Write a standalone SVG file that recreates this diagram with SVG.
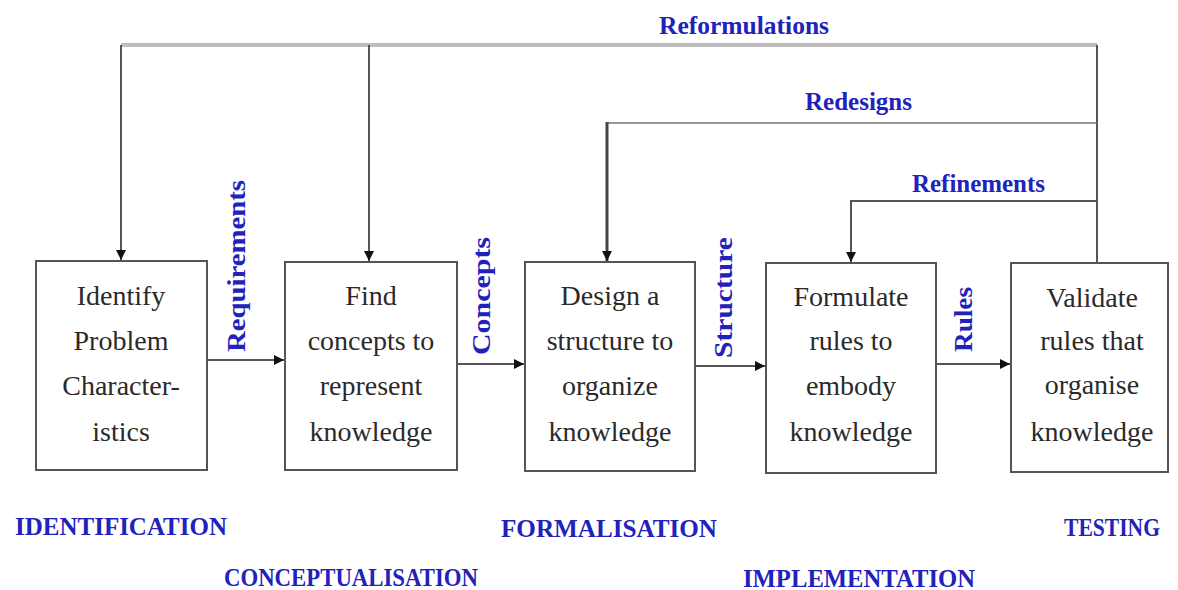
<svg xmlns="http://www.w3.org/2000/svg" width="1178" height="590" viewBox="0 0 1178 590">
  <style>
    .box { fill: #ffffff; stroke: #555555; stroke-width: 2; }
    .step { font-family: "Liberation Serif", "Times New Roman", serif; font-size: 28px; fill: #2a2a2a; text-anchor: middle; }
    .flow { font-family: "Liberation Serif", "Times New Roman", serif; font-size: 25px; font-weight: bold; fill: #2121bc; }
    .phase { font-family: "Liberation Serif", "Times New Roman", serif; font-size: 25px; font-weight: bold; fill: #2121bc; }
    .wire { fill: none; stroke: #555555; stroke-width: 2; }
  </style>
  <defs>
    <marker id="head" viewBox="0 0 10 10" refX="10" refY="5" markerWidth="10" markerHeight="10" markerUnits="userSpaceOnUse" orient="auto">
      <path d="M0,0 L10,5 L0,10 z" fill="#111111"/>
    </marker>
  </defs>
  <rect width="1178" height="590" fill="#ffffff"/>

  <!-- feedback loops and forward flow -->
  <g id="connectors">
    <!-- reformulations: testing back to identification and conceptualisation -->
    <path d="M1097,45 L121,45" fill="none" stroke="#bdbdbd" stroke-width="4"/>
    <path class="wire" d="M121,45 L121,260" marker-end="url(#head)"/>
    <path class="wire" d="M369,45 L369,261" marker-end="url(#head)"/>
    <path class="wire" d="M1097,45 L1097,263"/>
    <!-- redesigns -->
    <path d="M1097,123 L607,123" fill="none" stroke="#777777" stroke-width="1.5"/>
    <path d="M607,122 L607,261" fill="none" stroke="#444444" stroke-width="3" marker-end="url(#head)"/>
    <!-- refinements -->
    <path class="wire" d="M1097,201 L851,201 L851,262" marker-end="url(#head)"/>
    <!-- forward flow between steps -->
    <path class="wire" d="M207,360 L284,360" marker-end="url(#head)"/>
    <path class="wire" d="M457,364 L524,364" marker-end="url(#head)"/>
    <path class="wire" d="M695,366 L765,366" marker-end="url(#head)"/>
    <path class="wire" d="M936,364 L1010,364" marker-end="url(#head)"/>
  </g>

  <g id="identify">
    <rect class="box" x="36" y="261" width="171" height="209"/>
    <text class="step" x="121" y="305">Identify</text>
    <text class="step" x="121" y="350">Problem</text>
    <text class="step" x="121" y="395">Character-</text>
    <text class="step" x="121" y="441">istics</text>
  </g>

  <g id="find-concepts">
    <rect class="box" x="285" y="262" width="172" height="208"/>
    <text class="step" x="371" y="305">Find</text>
    <text class="step" x="371" y="350">concepts to</text>
    <text class="step" x="371" y="395">represent</text>
    <text class="step" x="371" y="441">knowledge</text>
  </g>

  <g id="design-structure">
    <rect class="box" x="525" y="262" width="170" height="209"/>
    <text class="step" x="610" y="305">Design a</text>
    <text class="step" x="610" y="350">structure to</text>
    <text class="step" x="610" y="395">organize</text>
    <text class="step" x="610" y="441">knowledge</text>
  </g>

  <g id="formulate-rules">
    <rect class="box" x="766" y="263" width="170" height="210"/>
    <text class="step" x="851" y="306">Formulate</text>
    <text class="step" x="851" y="350">rules to</text>
    <text class="step" x="851" y="395">embody</text>
    <text class="step" x="851" y="441">knowledge</text>
  </g>

  <g id="validate-rules">
    <rect class="box" x="1011" y="263" width="157" height="209"/>
    <text class="step" x="1092" y="307">Validate</text>
    <text class="step" x="1092" y="350">rules that</text>
    <text class="step" x="1092" y="394">organise</text>
    <text class="step" x="1092" y="441">knowledge</text>
  </g>

  <!-- connector labels -->
  <g id="flow-labels">
    <text class="flow" x="659" y="34" textLength="170" lengthAdjust="spacingAndGlyphs">Reformulations</text>
    <text class="flow" x="805" y="110" textLength="107" lengthAdjust="spacingAndGlyphs">Redesigns</text>
    <text class="flow" x="912" y="192" textLength="133" lengthAdjust="spacingAndGlyphs">Refinements</text>
    <text class="flow" transform="translate(245,352) rotate(-90)" textLength="172" lengthAdjust="spacingAndGlyphs">Requirements</text>
    <text class="flow" transform="translate(490,355) rotate(-90)" textLength="118" lengthAdjust="spacingAndGlyphs">Concepts</text>
    <text class="flow" transform="translate(732,358) rotate(-90)" textLength="121" lengthAdjust="spacingAndGlyphs">Structure</text>
    <text class="flow" transform="translate(972,352) rotate(-90)" textLength="65" lengthAdjust="spacingAndGlyphs">Rules</text>
  </g>

  <!-- phase names -->
  <g id="phases">
    <text class="phase" x="15" y="535" textLength="212" lengthAdjust="spacingAndGlyphs">IDENTIFICATION</text>
    <text class="phase" x="224" y="586" textLength="254" lengthAdjust="spacingAndGlyphs">CONCEPTUALISATION</text>
    <text class="phase" x="501" y="537" textLength="216" lengthAdjust="spacingAndGlyphs">FORMALISATION</text>
    <text class="phase" x="743" y="587" textLength="232" lengthAdjust="spacingAndGlyphs">IMPLEMENTATION</text>
    <text class="phase" x="1064" y="536" textLength="96" lengthAdjust="spacingAndGlyphs">TESTING</text>
  </g>
</svg>
